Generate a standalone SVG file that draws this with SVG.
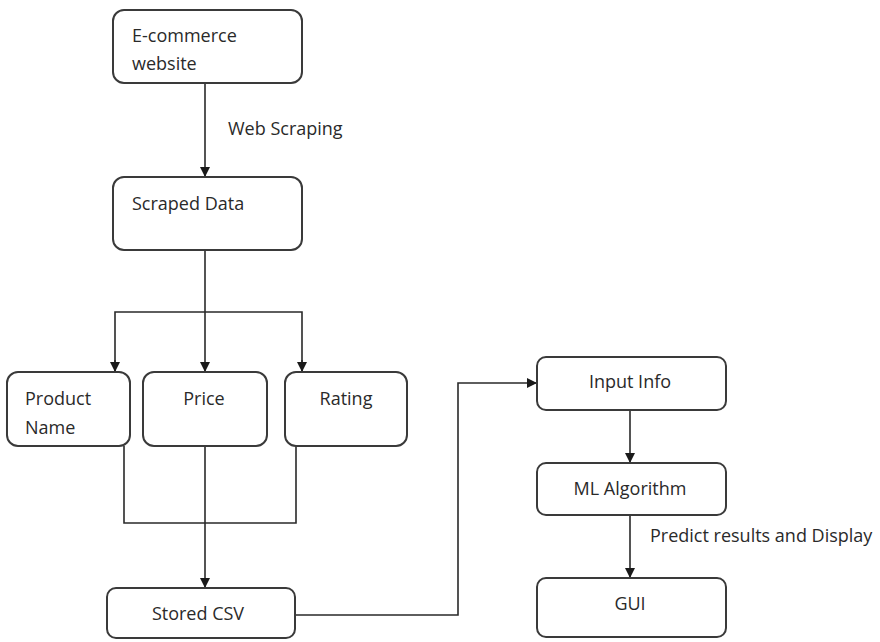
<svg xmlns="http://www.w3.org/2000/svg" width="880" height="642" viewBox="0 0 880 642">
  <style>
    .box { fill: #ffffff; stroke: #3a3a3a; stroke-width: 2; }
    .lbl { font-family: "Open Sans", "Liberation Sans", sans-serif; font-size: 18px; fill: #2a2a2a; }
    .mid { text-anchor: middle; }
    .wire { fill: none; stroke: #2a2a2a; stroke-width: 1.6; }
  </style>
  <defs>
    <marker id="arrow" viewBox="0 0 10 10" refX="10" refY="5" markerWidth="10" markerHeight="10" markerUnits="userSpaceOnUse" orient="auto">
      <path d="M0,0 L10,5 L0,10 z" fill="#1a1a1a"/>
    </marker>
  </defs>
  <rect width="880" height="642" fill="#ffffff"/>

  <!-- connectors -->
  <g id="connectors">
    <line class="wire" x1="205" y1="83" x2="205" y2="177" marker-end="url(#arrow)"/>
    <line class="wire" x1="205" y1="250" x2="205" y2="372" marker-end="url(#arrow)"/>
    <polyline class="wire" points="115,372 115,312 302,312 302,372"/>
    <line class="wire" x1="115" y1="360" x2="115" y2="372" marker-end="url(#arrow)"/>
    <line class="wire" x1="302" y1="360" x2="302" y2="372" marker-end="url(#arrow)"/>
    <polyline class="wire" points="124,446 124,523 296,523 296,446"/>
    <line class="wire" x1="205" y1="446" x2="205" y2="588" marker-end="url(#arrow)"/>
    <polyline class="wire" points="295,615 458,615 458,383 537,383" marker-end="url(#arrow)"/>
    <line class="wire" x1="630" y1="410" x2="630" y2="463" marker-end="url(#arrow)"/>
    <line class="wire" x1="630" y1="515" x2="630" y2="578" marker-end="url(#arrow)"/>
    <text class="lbl" x="228" y="135">Web Scraping</text>
    <text class="lbl" x="650" y="542">Predict results and Display</text>
  </g>

  <g id="ecommerce">
    <rect class="box" x="113" y="10" width="189" height="73" rx="11"/>
    <text class="lbl" x="132" y="42">E-commerce</text>
    <text class="lbl" x="132" y="70">website</text>
  </g>
  <g id="scraped-data">
    <rect class="box" x="113" y="177" width="189" height="73" rx="11"/>
    <text class="lbl" x="132" y="210">Scraped Data</text>
  </g>
  <g id="product-name">
    <rect class="box" x="7" y="372" width="123" height="74" rx="11"/>
    <text class="lbl" x="25" y="405">Product</text>
    <text class="lbl" x="25" y="434">Name</text>
  </g>
  <g id="price">
    <rect class="box" x="143" y="372" width="124" height="74" rx="11"/>
    <text class="lbl mid" x="204" y="405">Price</text>
  </g>
  <g id="rating">
    <rect class="box" x="285" y="372" width="122" height="74" rx="11"/>
    <text class="lbl mid" x="346" y="405">Rating</text>
  </g>
  <g id="stored-csv">
    <rect class="box" x="107" y="588" width="188" height="50" rx="9"/>
    <text class="lbl mid" x="198" y="620">Stored CSV</text>
  </g>
  <g id="input-info">
    <rect class="box" x="537" y="357" width="189" height="53" rx="9"/>
    <text class="lbl mid" x="630" y="388">Input Info</text>
  </g>
  <g id="ml-algorithm">
    <rect class="box" x="537" y="463" width="189" height="52" rx="9"/>
    <text class="lbl mid" x="630" y="495">ML Algorithm</text>
  </g>
  <g id="gui">
    <rect class="box" x="537" y="578" width="189" height="59" rx="9"/>
    <text class="lbl mid" x="630" y="610">GUI</text>
  </g>
</svg>
